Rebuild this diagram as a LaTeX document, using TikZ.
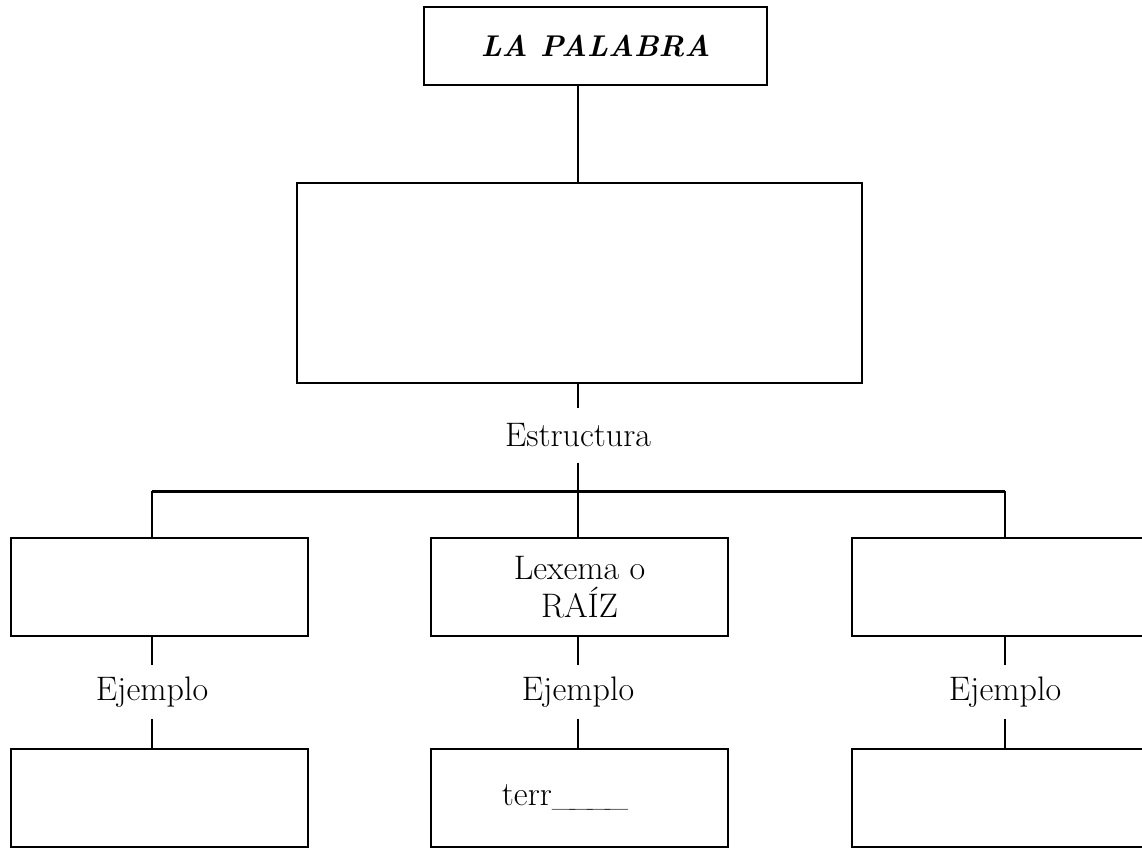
\documentclass[tikz,border=0pt]{standalone}
\usepackage{fontspec}

\begin{document}
\begin{tikzpicture}
[x=1pt,y=-1pt,%
  boxDecorate/.style={draw,line width=2.8pt,inner sep=0pt,minimum width=297pt,minimum height=98pt},%
  lineDecorate/.style={-,line width=1.4pt},%
  labelDecorate/.style={inner sep=0pt,minimum height=54pt}]
\fontsize{34}{38}\selectfont
\useasboundingbox (0,0) rectangle (1142,847);
%% title, main box and its label
\node[boxDecorate,minimum width=343pt,minimum height=78pt] (title) at (595.5,46)
  {\fontsize{30}{36}\selectfont\textbf{\textit{LA PALABRA}}};
\node[boxDecorate,minimum width=565pt,minimum height=200pt] (main) at (579.5,283) {};
\node[labelDecorate] (estructura) at (578,435.5) {Estructura};
%% structure boxes, examples and example boxes
\foreach \nodename/\x/\lx/\w/\content in {
  left/159.5/152/1.4pt/, mid/579.5/578/1.4pt/{Lexema o\\RAÍZ},
  right/1000.5/1005/2.6pt/}
{
  \node[boxDecorate,align=center] (\nodename) at (\x,587) {\content};
  \node[labelDecorate] (\nodename ej) at (\lx,692) {Ejemplo};
  \node[boxDecorate] (\nodename ex) at (\x,798) {};
  \draw[line width=\w] (\nodename.south -| \nodename ej) -- (\nodename ej.north);
  \draw[line width=\w] (\nodename ej.south) -- (\nodename ej |- \nodename ex.north);
}
\node (terr) at (565,797) {terr\_\kern-6pt\_\kern-6pt\_\kern-6pt\_};
%% connect boxes
\coordinate (barleft) at (152,491);
\coordinate (barright) at (1005,491);
\draw[line width=3pt] (barleft) -- (barright);
\draw[lineDecorate] (barleft) -- (barleft |- left.north);
\draw[line width=2.6pt] (barright) -- (barright |- right.north);
\draw[lineDecorate] (title.south -| estructura) -- (estructura |- main.north);
\draw[lineDecorate] (main.south -| estructura) -- (estructura.north);
\draw[lineDecorate] (estructura.south) -- (estructura |- mid.north);
\end{tikzpicture}
\end{document}
